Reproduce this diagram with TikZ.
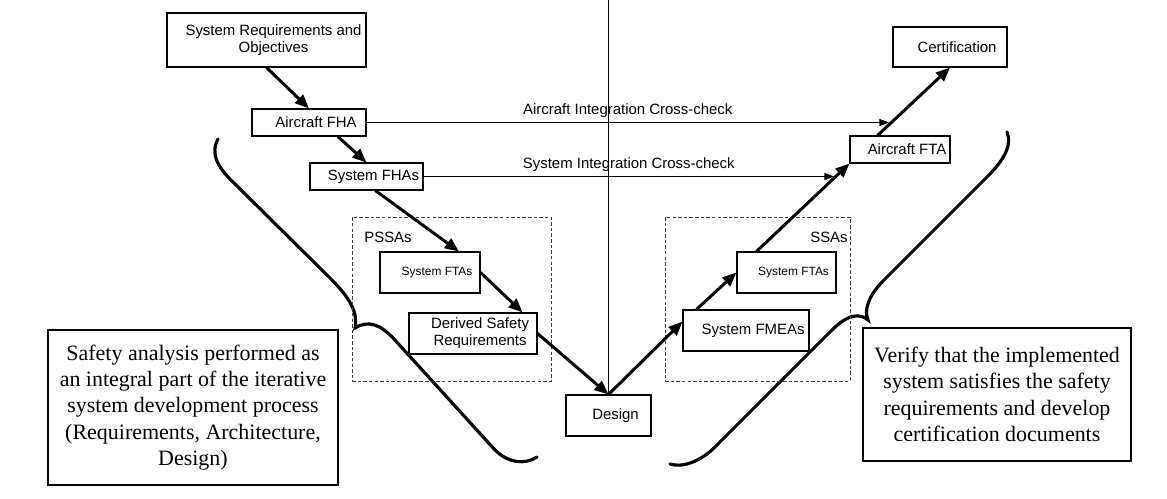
\documentclass[tikz,border=0pt]{standalone}
\usepackage{fontspec}
\setmainfont{Liberation Serif}
\setsansfont{Liberation Sans}
\usetikzlibrary{arrows.meta}

\tikzset{
  box/.style={draw, fill=white, line width=0.6pt, inner sep=0pt,
    font=\sffamily\fontsize{8.5}{9.7}\selectfont,
    execute at begin node={\hspace*{8pt}}},
  smallbox/.style={box, font=\sffamily\fontsize{6.8}{8}\selectfont},
  stagebox/.style={draw=black!75, line width=0.5pt, dash pattern=on 2pt off 1.2pt},
  stagelabel/.style={inner sep=0pt, font=\sffamily\fontsize{8.5}{9.7}\selectfont},
  note/.style={draw, line width=1.3pt, inner sep=0pt, align=center,
    font=\fontsize{12.5}{15}\selectfont},
  flow/.style={line width=1.7pt, -{Triangle[length=8pt,width=6.5pt]}},
  check/.style={line width=0.5pt, -{Triangle[length=5.5pt,width=4pt]}},
  crosslabel/.style={above=2.5pt, inner sep=0pt, font=\sffamily\fontsize{8.5}{9.7}\selectfont},
  curlbrace/.style={line width=1.8pt, line cap=round}
}

\begin{document}
\begin{tikzpicture}[x=0.02cm, y=-0.02cm]
  \useasboundingbox (0,0) rectangle (1167,499);

  % braces
  \draw[curlbrace] (218,139) .. controls (211,152) and (215,165) .. (234,183) -- (330,278)
    .. controls (350,298) and (358,312) .. (355,328)
    .. controls (368,320) and (380,324) .. (394,339) -- (495,450)
    .. controls (508,463) and (525,465) .. (537,457);
  \draw[curlbrace] (1007,132) .. controls (1012,145) and (1005,158) .. (990,174) -- (882,282)
    .. controls (868,297) and (864,310) .. (868,320)
    .. controls (860,313) and (848,314) .. (832,330) -- (715,447)
    .. controls (700,462) and (682,468) .. (670,464);

  % PSSA and SSA groups
  \node[stagebox, minimum width=3.98cm, minimum height=3.28cm] (pssa) at (451.5,299) {};
  \node[stagebox, minimum width=3.7cm, minimum height=3.28cm] (ssa) at (757.5,299) {};
  \node[stagelabel, anchor=north west] (pssalbl) at (364,232) {PSSAs};
  \node[stagelabel, anchor=north east] (ssalbl) at (848,232) {SSAs};

  \coordinate (vtop) at (608.5,0);
  \coordinate (acx) at (889,122.5);
  \coordinate (scx) at (834,176.5);

  \node[box, minimum width=3.98cm, minimum height=1.08cm, align=center] (req) at (266.5,40) {System Requirements and\\Objectives};
  \node[box, minimum width=2.28cm, minimum height=0.54cm] (afha) at (309,122.5) {Aircraft FHA};
  \node[box, minimum width=2.26cm, minimum height=0.54cm] (sfha) at (366.5,176.5) {System FHAs};
  \node[smallbox, minimum width=2cm, minimum height=0.82cm] (pfta) at (430,272.5) {System FTAs};
  \node[box, minimum width=2.56cm, minimum height=0.82cm, align=center] (dsr) at (473,333.5) {Derived Safety\\Requirements};
  \node[box, minimum width=1.7cm, minimum height=0.82cm] (design) at (608.5,415.5) {Design};
  \node[box, minimum width=2.52cm, minimum height=0.82cm] (fmea) at (746,330.5) {System FMEAs};
  \node[smallbox, minimum width=1.98cm, minimum height=0.82cm] (sfta) at (786.5,272.5) {System FTAs};
  \node[box, minimum width=2cm, minimum height=0.54cm] (afta) at (900,149.5) {Aircraft FTA};
  \node[box, minimum width=2.28cm, minimum height=0.8cm] (cert) at (950,47) {Certification};

  \node[note, minimum width=5.8cm, minimum height=3.1cm] (lnote) at (193,407.5) {Safety analysis performed as\\an integral part of the iterative\\system development process\\(Requirements, Architecture,\\Design)};
  \node[note, minimum width=5.36cm, minimum height=2.66cm] (rnote) at (997,394.5) {Verify that the implemented\\system satisfies the safety\\requirements and develop\\certification documents};

  % cross-checks
  \draw[line width=0.5pt] (vtop) -- (design.north);
  \draw[check] (afha.east) -- node[crosslabel] {Aircraft Integration Cross-check} (acx);
  \draw[check] (sfha.east) -- node[crosslabel] {System Integration Cross-check} (scx);

  % the V
  \draw[flow] (req.south) -- (afha.north);
  \draw[flow] (afha.-26) -- (sfha.north);
  \draw[flow] (sfha.-58) -- (pfta.36);
  \draw[flow] (pfta.east) -- (dsr.23);
  \draw[flow] (dsr.east) -- (design.north);
  \draw[flow] (design.north) -- (fmea.172);
  \draw[flow] (fmea.157) -- (sfta.west);
  \draw[flow] (sfta.145) -- (afta.south west);
  \draw[flow] (afta.148) -- (cert.south);
\end{tikzpicture}
\end{document}
